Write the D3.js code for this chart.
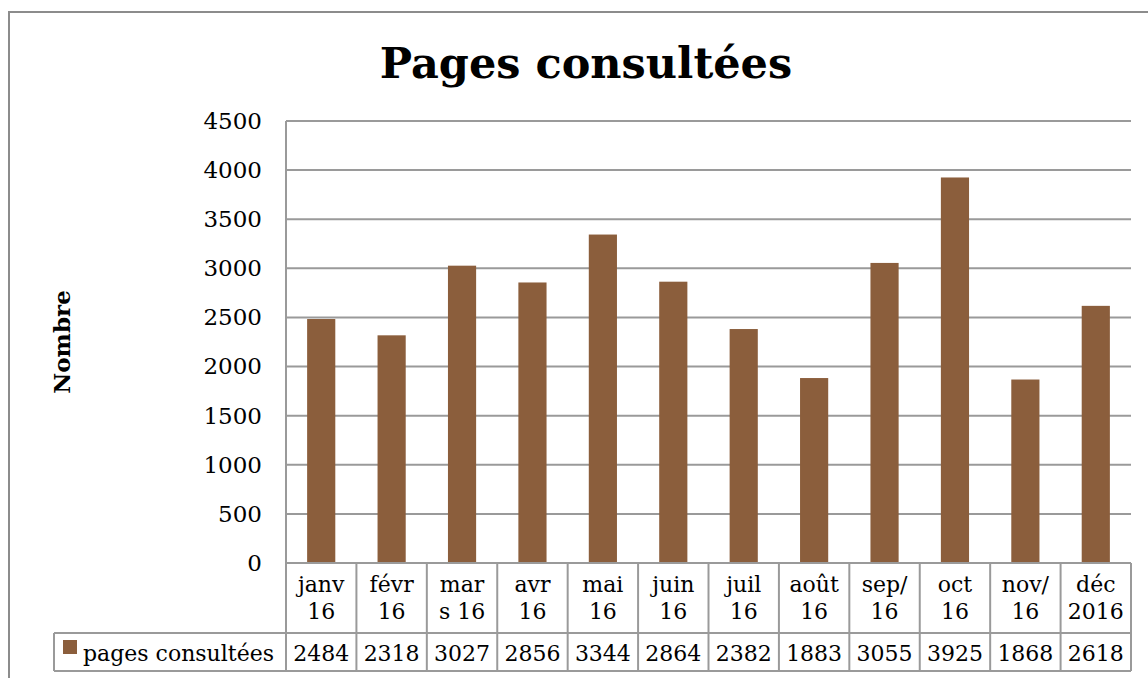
<!DOCTYPE html>
<html>
<head>
<meta charset="utf-8">
<script src="https://cdn.jsdelivr.net/npm/d3@7"></script>
<style>
  html, body { margin: 0; padding: 0; background: #fff; }
  svg { display: block; }
  text { font-family: "DejaVu Serif", "Liberation Serif", serif; fill: #000; }
</style>
</head>
<body>
<svg id="chart" width="1148" height="678"></svg>
<script>
// data
const months = ["janv 16", "févr 16", "mars 16", "avr 16", "mai 16", "juin 16",
                "juil 16", "août 16", "sep/ 16", "oct 16", "nov/ 16", "déc 2016"];
// how the labels wrap inside their table cell
const monthLines = [["janv", "16"], ["févr", "16"], ["mar", "s 16"], ["avr", "16"],
                    ["mai", "16"], ["juin", "16"], ["juil", "16"], ["août", "16"],
                    ["sep/", "16"], ["oct", "16"], ["nov/", "16"], ["déc", "2016"]];
const pages = [2484, 2318, 3027, 2856, 3344, 2864, 2382, 1883, 3055, 3925, 1868, 2618];
const yTicks = [0, 500, 1000, 1500, 2000, 2500, 3000, 3500, 4000, 4500];
const seriesName = "pages consultées";

const barColor = "#8b5e3c";
const lineColor = "#9a9a9a";

const svg = d3.select("#chart");
const plot = { left: 286, right: 1131, top: 121, bottom: 563 };
const table = { legendLeft: 54, rowCat: 633, rowEnd: 671 };

const x = d3.scaleBand()
  .domain(months)
  .range([plot.left, plot.right])
  .paddingInner(0.6)
  .paddingOuter(0.3);
const xCell = d3.scaleBand().domain(months).range([plot.left, plot.right]);
const y = d3.scaleLinear().domain([0, 4500]).range([plot.bottom, plot.top]);

// outer chart border (runs off the right and bottom of the picture)
svg.append("rect")
  .attr("x", 9).attr("y", 12)
  .attr("width", 1300).attr("height", 800)
  .attr("fill", "none").attr("stroke", "#8c8c8c").attr("stroke-width", 2);

// title
svg.append("text")
  .attr("x", 586).attr("y", 78)
  .attr("text-anchor", "middle")
  .attr("font-size", 43).attr("font-weight", "bold")
  .text("Pages consultées");

// y axis title
svg.append("text")
  .attr("transform", "translate(70,342) rotate(-90)")
  .attr("text-anchor", "middle")
  .attr("font-size", 23).attr("font-weight", "bold")
  .text("Nombre");

// gridlines
svg.append("g")
  .selectAll("line")
  .data(yTicks.filter(d => d > 0))
  .join("line")
  .attr("x1", plot.left).attr("x2", plot.right)
  .attr("y1", d => y(d)).attr("y2", d => y(d))
  .attr("stroke", lineColor).attr("stroke-width", 2);

// y axis labels
const yAxis = svg.append("g")
  .attr("transform", `translate(${plot.left},0)`)
  .call(d3.axisLeft(y).tickValues(yTicks).tickFormat(d3.format("d")).tickSize(0).tickPadding(24));
yAxis.select(".domain").remove();
yAxis.selectAll("text")
  .attr("font-family", "DejaVu Serif, serif")
  .attr("font-size", 23)
  .attr("fill", "#000");

// bars
svg.append("g")
  .selectAll("rect")
  .data(pages)
  .join("rect")
  .attr("x", (d, i) => x(months[i]))
  .attr("width", x.bandwidth())
  .attr("y", d => y(d))
  .attr("height", d => y(0) - y(d))
  .attr("fill", barColor);

// data table lines
const tl = svg.append("g")
  .attr("stroke", lineColor).attr("stroke-width", 2);
tl.append("line").attr("x1", plot.left).attr("x2", plot.left)
  .attr("y1", plot.top).attr("y2", table.rowEnd);
tl.append("line").attr("x1", plot.left).attr("x2", plot.right)
  .attr("y1", plot.bottom).attr("y2", plot.bottom);
tl.append("line").attr("x1", table.legendLeft).attr("x2", plot.right)
  .attr("y1", table.rowCat).attr("y2", table.rowCat);
tl.append("line").attr("x1", table.legendLeft).attr("x2", plot.right)
  .attr("y1", table.rowEnd).attr("y2", table.rowEnd);
tl.append("line").attr("x1", table.legendLeft).attr("x2", table.legendLeft)
  .attr("y1", table.rowCat).attr("y2", table.rowEnd);
tl.selectAll("line.sep")
  .data(months)
  .join("line")
  .attr("class", "sep")
  .attr("x1", d => xCell(d) + xCell.bandwidth())
  .attr("x2", d => xCell(d) + xCell.bandwidth())
  .attr("y1", plot.bottom).attr("y2", table.rowEnd);

// category labels (two lines per cell)
const cat = svg.append("g")
  .selectAll("text")
  .data(monthLines)
  .join("text")
  .attr("text-anchor", "middle")
  .attr("font-size", 22);
cat.each(function (lines, i) {
  const cx = xCell(months[i]) + xCell.bandwidth() / 2;
  d3.select(this).selectAll("tspan")
    .data(lines)
    .join("tspan")
    .attr("x", cx)
    .attr("y", (l, j) => 592 + j * 27)
    .text(l => l);
});

// values row
svg.append("g")
  .selectAll("text")
  .data(pages)
  .join("text")
  .attr("x", (d, i) => xCell(months[i]) + xCell.bandwidth() / 2)
  .attr("y", 661)
  .attr("text-anchor", "middle")
  .attr("font-size", 22)
  .text(d => d);

// legend key in the table
svg.append("rect")
  .attr("x", 63).attr("y", 640)
  .attr("width", 14).attr("height", 14)
  .attr("fill", barColor);
svg.append("text")
  .attr("x", 83).attr("y", 661)
  .attr("font-size", 22)
  .text(seriesName);
</script>
</body>
</html>
